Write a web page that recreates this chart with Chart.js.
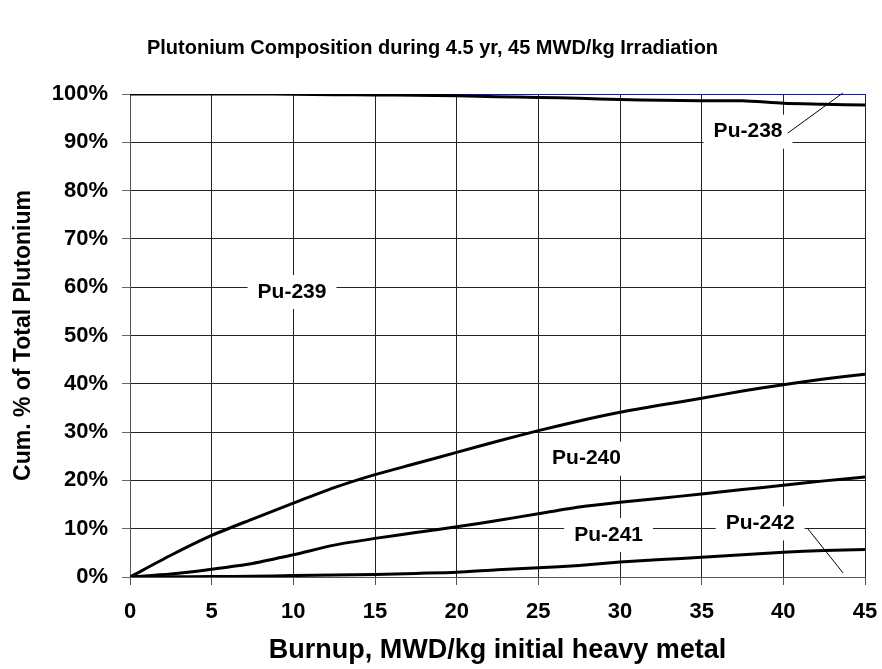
<!DOCTYPE html>
<html>
<head>
<meta charset="utf-8">
<title>Plutonium Composition</title>
<script src="https://cdn.jsdelivr.net/npm/chart.js@4.4.1/dist/chart.umd.min.js"></script>
<style>
  html, body { margin: 0; padding: 0; background: #fff; }
  #wrap { width: 882px; height: 669px; position: relative; }
</style>
</head>
<body>
<div id="wrap"><canvas id="puChart"></canvas></div>
<script>
// burnup steps, MWD/kg
var burnup = [0, 2.5, 5, 7.5, 10, 12.5, 15, 17.5, 20, 22.5, 25, 27.5, 30, 32.5, 35, 37.5, 40, 42.5, 45];

// cumulative shares of total plutonium, %
var cumPu242 = [0, 0.05, 0.1, 0.15, 0.3, 0.4, 0.5, 0.75, 1.0, 1.5, 1.9, 2.4, 3.1, 3.6, 4.1, 4.6, 5.1, 5.5, 5.7];
var cumPu241 = [0, 0.6, 1.6, 2.8, 4.6, 6.6, 8.0, 9.2, 10.4, 11.7, 13.1, 14.5, 15.5, 16.3, 17.2, 18.1, 19.0, 19.9, 20.7];
var cumPu240 = [0, 4.5, 8.6, 12.0, 15.3, 18.5, 21.2, 23.5, 25.8, 28.1, 30.3, 32.3, 34.1, 35.6, 37.0, 38.5, 39.8, 41.0, 42.0];
var cumPu239 = [100, 100, 100, 100, 99.95, 99.85, 99.8, 99.75, 99.65, 99.45, 99.3, 99.1, 98.85, 98.7, 98.6, 98.6, 98.1, 97.9, 97.7];

var xTicks = [0, 5, 10, 15, 20, 25, 30, 35, 40, 45];
var yTicks = [0, 10, 20, 30, 40, 50, 60, 70, 80, 90, 100];

// isotope labels: text, position in data units, optional leader line
var isoLabels = [
  { text: 'Pu-238', x: 37.84, y: 92.2, lead: [40.27, 91.9, 43.64, 100.2] },
  { text: 'Pu-239', x: 9.92, y: 59.0 },
  { text: 'Pu-240', x: 27.95, y: 24.5 },
  { text: 'Pu-241', x: 29.3, y: 8.7 },
  { text: 'Pu-242', x: 38.58, y: 11.1, lead: [41.46, 10.15, 43.66, 0.83] }
];

var FONT = 'Arial, "Liberation Sans", sans-serif';

function toPoints(ys) {
  return burnup.map(function(x, i) { return { x: x, y: ys[i] }; });
}

function lineSet(label, ys) {
  return {
    label: label,
    data: toPoints(ys),
    borderColor: '#000',
    borderWidth: 3,
    pointRadius: 0,
    tension: 0.25,
    fill: false
  };
}

// white boxes behind the isotope names, then the names and leader lines
var labelPlugin = {
  id: 'isoLabels',
  beforeDatasetsDraw: function(chart) {
    var c = chart.ctx, xs = chart.scales.x, ys = chart.scales.y;
    c.save();
    c.font = 'bold 21px ' + FONT;
    isoLabels.forEach(function(l) {
      var px = xs.getPixelForValue(l.x), py = ys.getPixelForValue(l.y);
      var w = c.measureText(l.text).width + 20;
      c.fillStyle = '#fff';
      c.fillRect(px - w / 2, py - 17, w, 34);
    });
    c.restore();
  },
  afterDatasetsDraw: function(chart) {
    var c = chart.ctx, xs = chart.scales.x, ys = chart.scales.y;
    c.save();
    c.font = 'bold 21px ' + FONT;
    c.fillStyle = '#000';
    c.textAlign = 'center';
    c.textBaseline = 'middle';
    isoLabels.forEach(function(l) {
      c.fillText(l.text, xs.getPixelForValue(l.x), ys.getPixelForValue(l.y));
      if (l.lead) {
        c.strokeStyle = '#000';
        c.lineWidth = 1;
        c.beginPath();
        c.moveTo(xs.getPixelForValue(l.lead[0]), ys.getPixelForValue(l.lead[1]));
        c.lineTo(xs.getPixelForValue(l.lead[2]), ys.getPixelForValue(l.lead[3]));
        c.stroke();
      }
    });
    c.restore();
  }
};

var ctx = document.getElementById('puChart').getContext('2d');

var puChart = new Chart(ctx, {
  type: 'line',
  data: {
    datasets: [
      lineSet('Pu-239', cumPu239),
      lineSet('Pu-240', cumPu240),
      lineSet('Pu-241', cumPu241),
      lineSet('Pu-242', cumPu242)
    ]
  },
  plugins: [labelPlugin],
  options: {
    responsive: true,
    maintainAspectRatio: false,
    animation: false,
    layout: { padding: { left: 0, right: 17, top: 0, bottom: 0 } },
    plugins: {
      legend: { display: false },
      tooltip: { enabled: false },
      title: {
        display: true,
        text: 'Plutonium Composition during 4.5 yr, 45 MWD/kg Irradiation',
        color: '#000',
        font: { family: FONT, size: 20, weight: 'bold' },
        padding: { top: 36, bottom: 34 }
      }
    },
    scales: {
      x: {
        type: 'linear',
        min: 0,
        max: 45,
        afterBuildTicks: function(s) {
          s.ticks = xTicks.map(function(v) { return { value: v }; });
        },
        afterFit: function(s) {
          s.height = 92;
          // the end labels may hang past the plot edges
          s.paddingLeft = 0;
          s.paddingRight = 0;
        },
        grid: { color: '#222', lineWidth: 1, tickLength: 8, tickColor: '#555' },
        border: { color: '#555' },
        ticks: {
          color: '#000',
          padding: 14,
          font: { family: FONT, size: 22, weight: 'bold' }
        },
        title: {
          display: true,
          text: 'Burnup, MWD/kg initial heavy metal',
          color: '#000',
          font: { family: FONT, size: 27, weight: 'bold' },
          padding: { top: 4, bottom: 2 }
        }
      },
      y: {
        type: 'linear',
        min: 0,
        max: 100,
        afterBuildTicks: function(s) {
          var t = [];
          for (var v = 0; v <= 100; v += 5) t.push({ value: v });
          s.ticks = t;
        },
        afterFit: function(s) { s.width = 130; },
        grid: {
          lineWidth: 1,
          tickLength: 8,
          color: function(c) { return c.tick && c.tick.value === 100 ? '#1a1a80' : '#222'; },
          tickColor: function(c) { return yTicks.indexOf(c.tick.value) >= 0 ? '#666' : 'rgba(0,0,0,0)'; }
        },
        border: { color: '#555' },
        ticks: {
          color: '#000',
          padding: 14,
          font: { family: FONT, size: 22, weight: 'bold' },
          callback: function(v) { return yTicks.indexOf(v) >= 0 ? v + '%' : ''; }
        },
        title: {
          display: true,
          text: 'Cum. % of Total Plutonium',
          color: '#000',
          font: { family: FONT, size: 23, weight: 'bold' },
          padding: { top: 10, bottom: 4 }
        }
      }
    }
  }
});
</script>
</body>
</html>
